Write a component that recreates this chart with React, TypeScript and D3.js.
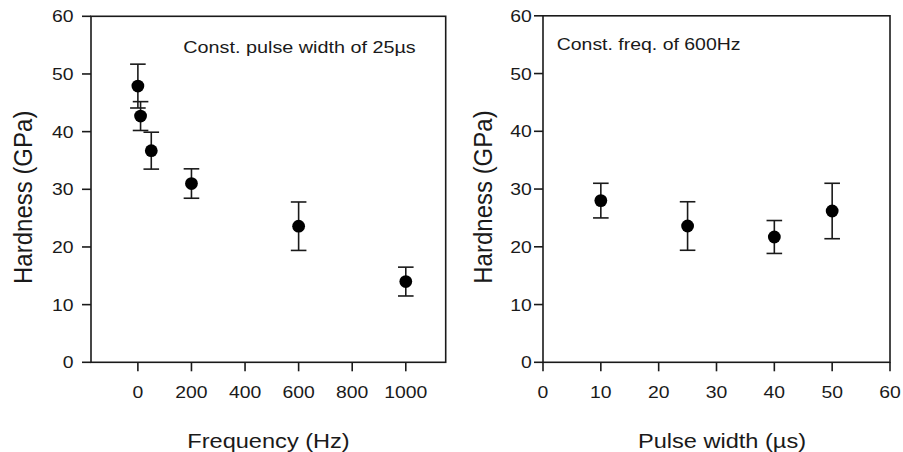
import React from "react";
import * as d3 from "d3";

// ---- Data ----
const freqX = [0, 10, 50, 200, 600, 1000];
const freqH = [47.9, 42.7, 36.7, 31.0, 23.6, 14.0];
const freqErr = [3.8, 2.5, 3.2, 2.55, 4.2, 2.5];
const freqTicks = [0, 200, 400, 600, 800, 1000];

const pwX = [10, 25, 40, 50];
const pwH = [28.0, 23.6, 21.7, 26.2];
const pwErr = [3.0, 4.2, 2.85, 4.8];
const pwTicks = [0, 10, 20, 30, 40, 50, 60];

const hardTicks = [0, 10, 20, 30, 40, 50, 60];

const FONT = "'Liberation Sans', Arial, Helvetica, sans-serif";
const INK = "#1a1a1a";

type TProps = {
  x: number; y: number; size: number; sx?: number; sy?: number;
  anchor?: "start" | "middle" | "end"; rotate?: number; children: React.ReactNode;
};
const T = ({ x, y, size, sx = 1, sy = 1, anchor = "middle", rotate, children }: TProps) => (
  <text
    transform={`translate(${x},${y})${rotate ? ` rotate(${rotate})` : ""} scale(${sx},${sy})`}
    textAnchor={anchor}
    fontFamily={FONT}
    fontSize={size}
    fill={INK}
  >
    {children}
  </text>
);

type PanelProps = {
  left: number; right: number; top: number; bottom: number;
  xDomain: [number, number]; xTicks: number[];
  xs: number[]; ys: number[]; errs: number[];
  yLabelRight: number; yTitleX: number;
  xTitle: string; xTitleX: number;
  note: string; noteX: number; noteY: number; noteSx: number;
};

const Panel = (p: PanelProps) => {
  const x = d3.scaleLinear().domain(p.xDomain).range([p.left, p.right]);
  const y = d3.scaleLinear().domain([0, 60]).range([p.bottom, p.top]);
  const tick = 9;
  const cap = 7.8;
  return (
    <g>
      {/* frame */}
      <rect x={p.left} y={p.top} width={p.right - p.left} height={p.bottom - p.top}
        fill="none" stroke={INK} strokeWidth={1.6} />
      {/* y ticks */}
      {hardTicks.map((t) => (
        <g key={"y" + t}>
          <line x1={p.left - tick} x2={p.left} y1={y(t)} y2={y(t)} stroke={INK} strokeWidth={1.6} />
          <T x={p.yLabelRight} y={y(t) + 6} size={17} sx={1.14} anchor="end">{t}</T>
        </g>
      ))}
      {/* x ticks */}
      {p.xTicks.map((t) => (
        <g key={"x" + t}>
          <line x1={x(t)} x2={x(t)} y1={p.bottom} y2={p.bottom + tick} stroke={INK} strokeWidth={1.6} />
          <T x={x(t)} y={398} size={17} sx={1.14}>{t}</T>
        </g>
      ))}
      {/* error bars */}
      {p.xs.map((xv, i) => {
        const cx = x(xv);
        const y1 = y(p.ys[i] + p.errs[i]);
        const y2 = y(p.ys[i] - p.errs[i]);
        return (
          <g key={"e" + i} stroke={INK} strokeWidth={1.6}>
            <line x1={cx} x2={cx} y1={y1} y2={y2} />
            <line x1={cx - cap} x2={cx + cap} y1={y1} y2={y1} />
            <line x1={cx - cap} x2={cx + cap} y1={y2} y2={y2} />
          </g>
        );
      })}
      {/* points */}
      {p.xs.map((xv, i) => (
        <circle key={"c" + i} cx={x(xv)} cy={y(p.ys[i])} r={6.4} fill="#000" />
      ))}
      {/* titles */}
      <T x={p.yTitleX} y={(p.top + p.bottom) / 2 + 8} size={24} sy={1.1} rotate={-90}>Hardness (GPa)</T>
      <T x={p.xTitleX} y={448} size={19.5} sx={1.21}>{p.xTitle}</T>
      <T x={p.noteX} y={p.noteY} size={17} sx={p.noteSx} anchor="start">{p.note}</T>
    </g>
  );
};

export default function App() {
  return (
    <svg width={903} height={452} style={{ position: "absolute", left: 0, top: 0, background: "#fff" }}>
      <rect width={903} height={452} fill="#fff" />
      <Panel
        left={91} right={445.7} top={16.3} bottom={362.3}
        xDomain={[-175, 1149]} xTicks={freqTicks}
        xs={freqX} ys={freqH} errs={freqErr}
        yLabelRight={73.5} yTitleX={31.5}
        xTitle="Frequency (Hz)" xTitleX={268.5}
        note="Const. pulse width of 25µs" noteX={183.3} noteY={53} noteSx={1.165}
      />
      <Panel
        left={543} right={890} top={15.8} bottom={362.3}
        xDomain={[0, 60]} xTicks={pwTicks}
        xs={pwX} ys={pwH} errs={pwErr}
        yLabelRight={531.7} yTitleX={492}
        xTitle="Pulse width (µs)" xTitleX={722}
        note="Const. freq. of 600Hz" noteX={556.7} noteY={50} noteSx={1.145}
      />
    </svg>
  );
}
